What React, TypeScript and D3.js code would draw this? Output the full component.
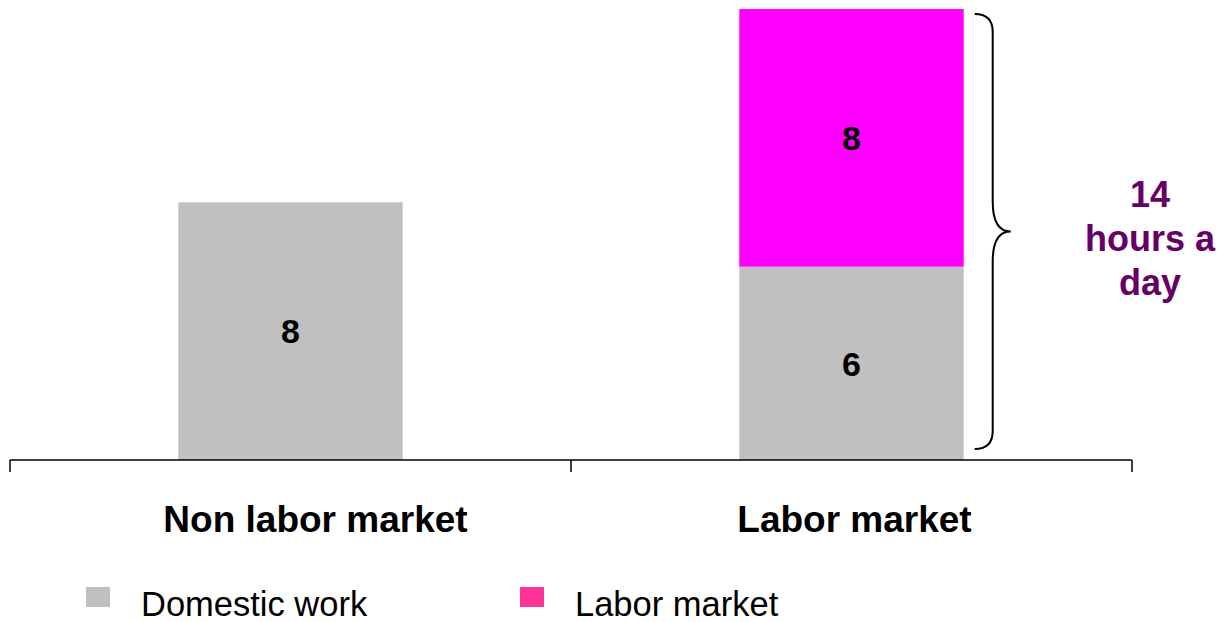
import * as d3 from "d3";

const categories = ["Non labor market", "Labor market"];
const domesticWork = [8, 6];
const laborMarket = [0, 8];
const seriesNames = ["Domestic work", "Labor market"];
const seriesColors = ["#c0c0c0", "#ff00ff"];
const legendColors = ["#c0c0c0", "#ff3399"];
const totalLines = ["14", "hours a", "day"];

const W = 1218;
const H = 622;
const FONT = "'Liberation Sans', Arial, Helvetica, sans-serif";

export default function App() {
  const rows = categories.map((c, i) => ({
    category: c,
    domestic: domesticWork[i],
    labor: laborMarket[i],
  }));
  const stacked = d3.stack<any>().keys(["domestic", "labor"])(rows);

  const axisX = d3.scaleBand().domain(categories).range([10, 1132]).padding(0);
  const x = d3
    .scaleBand()
    .domain(categories)
    .range([10, 1132])
    .paddingInner(0.6)
    .paddingOuter(0.3);
  const y = d3.scaleLinear().domain([0, 14]).range([460, 9]);

  // category labels sit a little off-centre in the original
  const labelShift = [25, 3];

  const total = domesticWork[1] + laborMarket[1];
  const bx0 = (x(categories[1]) ?? 0) + x.bandwidth() + 11;
  const bxm = bx0 + 18;
  const bxp = bx0 + 36;
  const yt = y(total) + 5;
  const yb = y(0) - 11;
  const ym = (yt + yb) / 2;
  const brace = `M${bx0},${yt} Q${bxm},${yt} ${bxm},${yt + 18} L${bxm},${ym - 30} Q${bxm},${ym} ${bxp},${ym} Q${bxm},${ym} ${bxm},${ym + 30} L${bxm},${yb - 18} Q${bxm},${yb} ${bx0},${yb}`;

  const ticks = [...categories.map((c) => axisX(c) ?? 0), 1132];

  return (
    <svg
      width={W}
      height={H}
      style={{ position: "absolute", left: 0, top: 0, background: "#fff" }}
      fontFamily={FONT}
    >
      {stacked.map((s, si) => (
        <g key={s.key} fill={seriesColors[si]}>
          {s.map((d, i) =>
            d[1] - d[0] > 0 ? (
              <rect
                key={i}
                x={x(categories[i])}
                y={y(d[1])}
                width={x.bandwidth()}
                height={y(d[0]) - y(d[1])}
              />
            ) : null
          )}
        </g>
      ))}
      {stacked.map((s, si) =>
        s.map((d, i) =>
          d[1] - d[0] > 0 ? (
            <text
              key={`${si}-${i}`}
              x={(x(categories[i]) ?? 0) + x.bandwidth() / 2}
              y={(y(d[0]) + y(d[1])) / 2}
              dy="0.36em"
              textAnchor="middle"
              fontSize={34}
              fontWeight="bold"
              fill="#000"
            >
              {d[1] - d[0]}
            </text>
          ) : null
        )
      )}

      <line x1={10} x2={1132} y1={y(0)} y2={y(0)} stroke="#000" strokeWidth={1.5} />
      {ticks.map((t, i) => (
        <line key={i} x1={t} x2={t} y1={y(0)} y2={y(0) + 12} stroke="#000" strokeWidth={1.5} />
      ))}
      {categories.map((c, i) => (
        <text
          key={c}
          x={(axisX(c) ?? 0) + axisX.bandwidth() / 2 + labelShift[i]}
          y={532}
          textAnchor="middle"
          fontSize={37}
          fontWeight="bold"
        >
          {c}
        </text>
      ))}

      <path d={brace} fill="none" stroke="#000" strokeWidth={2} />
      {totalLines.map((t, i) => (
        <text
          key={t}
          x={1150}
          y={207 + i * 44}
          textAnchor="middle"
          fontSize={36}
          fontWeight="bold"
          fill="#660066"
        >
          {t}
        </text>
      ))}

      {seriesNames.map((n, i) => (
        <g key={n} transform={`translate(${[86, 520][i]},587)`}>
          <rect width={24} height={20} fill={legendColors[i]} />
          <text x={55} y={29} fontSize={34.5} fill="#000">
            {n}
          </text>
        </g>
      ))}
    </svg>
  );
}
